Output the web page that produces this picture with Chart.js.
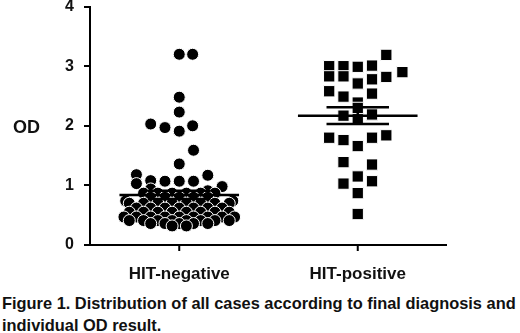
<!DOCTYPE html>
<html>
<head>
<meta charset="utf-8">
<script src="https://cdn.jsdelivr.net/npm/chart.js@4.4.1/dist/chart.umd.min.js"></script>
<style>
    html, body { margin: 0; padding: 0; background: #fff; }
    #wrap { position: relative; width: 520px; height: 333px; overflow: hidden; font-family: "Liberation Sans", Arial, sans-serif; color: #111; }
    #chart_box { position: absolute; left: 0; top: -13px; width: 520px; height: 303px; }
    #y_title { position: absolute; left: 13px; top: 118px; font-size: 18px; font-weight: bold; line-height: 18px; }
    #caption { position: absolute; left: 2px; top: 293px; font-size: 16.4px; font-weight: bold; line-height: 21.5px; white-space: nowrap; }
</style>
</head>
<body>
<div id="wrap">
    <div id="chart_box"><canvas id="od_chart"></canvas></div>
    <div id="y_title">OD</div>
    <div id="caption">Figure 1. Distribution of all cases according to final diagnosis and<br>individual OD result.</div>
</div>
<script>
// Gruplar
const categories = ['HIT-negative', 'HIT-positive'];
const yTicks = [0, 1, 2, 3, 4];

// HIT-negative: yatay kayma (kategori birimi) ve OD değerleri
const negOffsets = [
    0, 0.075, 0, 0,
    -0.16, -0.08, 0, 0.075, 0.08, 0,
    -0.24, 0.16, -0.24, -0.16, -0.08, 0, 0.08, 0.24,
    -0.16, 0.16,
    -0.20, -0.12, -0.04, 0.04, 0.12, 0.20,
    -0.16, -0.08, 0, 0.08, 0.16,
    -0.30, 0.30,
    -0.28, -0.20, -0.12, -0.04, 0.04, 0.12, 0.20, 0.28,
    -0.24, -0.16, -0.08, 0, 0.08, 0.16, 0.24,
    -0.28, -0.20, -0.12, -0.04, 0.04, 0.12, 0.20, 0.28,
    -0.31, -0.24, -0.16, -0.08, 0, 0.08, 0.16, 0.24, 0.31,
    -0.28, -0.20, -0.12, -0.04, 0.04, 0.12, 0.20, 0.28,
    -0.16, -0.08, 0, 0.08, 0.16,
    -0.04, 0.04
];
const negValues = [
    3.2, 3.2, 2.48, 2.23,
    2.03, 1.97, 1.91, 2.0, 1.59, 1.36,
    1.18, 1.17, 1.03, 1.08, 1.07, 1.07, 1.07, 0.98,
    0.94, 0.91,
    0.87, 0.87, 0.87, 0.87, 0.87, 0.87,
    0.80, 0.80, 0.80, 0.80, 0.80,
    0.74, 0.74,
    0.70, 0.70, 0.70, 0.70, 0.70, 0.70, 0.70, 0.70,
    0.62, 0.62, 0.62, 0.62, 0.62, 0.62, 0.62,
    0.55, 0.55, 0.55, 0.55, 0.55, 0.55, 0.55, 0.55,
    0.47, 0.47, 0.47, 0.47, 0.47, 0.47, 0.47, 0.47, 0.47,
    0.41, 0.41, 0.41, 0.41, 0.41, 0.41, 0.41, 0.41,
    0.36, 0.36, 0.36, 0.36, 0.36,
    0.32, 0.32
];

// HIT-positive
const posOffsets = [
    -0.16, -0.16, -0.08, -0.08, 0, 0, 0.08, 0.08, 0.08, 0.16, 0.16, 0.25,
    -0.16, -0.08, 0,
    -0.08, 0, 0.08, 0,
    -0.16, -0.08, 0, 0.08, 0.16,
    -0.08, 0.08,
    0, -0.08, 0.08,
    0, 0
];
const posValues = [
    3.00, 2.83, 3.00, 2.83, 2.99, 2.71, 3.01, 2.78, 2.54, 3.19, 2.82, 2.90,
    2.58, 2.49, 2.39,
    2.17, 2.13, 2.19, 2.30,
    1.80, 1.76, 1.66, 1.80, 1.84,
    1.39, 1.35,
    1.15, 1.03, 1.07,
    0.87, 0.52
];

// Ortalama ve SEM
const groupMeans = [0.84, 2.17];
const semLow = [0.77, 2.03];
const semHigh = [0.91, 2.31];

const meanHalf = 0.335;
const capHalf = 0.175;
const xMin = 0.5;
const xMax = 2.5;

function toPoints(center, offsets, values) {
    return values.map((v, i) => ({ x: center + offsets[i], y: v }));
}

// Ortalama çizgisi + SEM çubukları: her parça ayrı bir çizgi
function segment(points, width) {
    return {
        data: points,
        showLine: true,
        borderColor: '#000',
        borderWidth: width,
        pointRadius: 0,
        clip: false
    };
}
const summarySets = [];
groupMeans.forEach((m, i) => {
    const c = i + 1;
    summarySets.push(segment([{ x: c - meanHalf, y: m }, { x: c + meanHalf, y: m }], 2.5));
    summarySets.push(segment([{ x: c - capHalf, y: semHigh[i] }, { x: c + capHalf, y: semHigh[i] }], 2.5));
    summarySets.push(segment([{ x: c - capHalf, y: semLow[i] }, { x: c + capHalf, y: semLow[i] }], 2.5));
    summarySets.push(segment([{ x: c, y: semLow[i] }, { x: c, y: semHigh[i] }], 2.5));
});
// X ekseni çizgisi (OD = 0)
summarySets.push(segment([{ x: xMin, y: 0 }, { x: xMax, y: 0 }], 2));

const tickFont = { family: '"Liberation Sans", Arial, sans-serif', weight: 'bold' };

// X ekseni tik işaretleri (ölçek üzerinden çizilir)
const xAxisTicks = {
    id: 'xAxisTicks',
    afterDraw(chart) {
        const { ctx, chartArea, scales: { x } } = chart;
        ctx.save();
        ctx.strokeStyle = '#000';
        ctx.lineWidth = 2;
        ctx.beginPath();
        ctx.moveTo(chartArea.left - 1, chartArea.bottom);
        ctx.lineTo(chartArea.right, chartArea.bottom);
        x.ticks.forEach(t => {
            const px = x.getPixelForValue(t.value);
            ctx.moveTo(px, chartArea.bottom);
            ctx.lineTo(px, chartArea.bottom + 6);
        });
        ctx.stroke();
        ctx.restore();
    }
};

new Chart(document.getElementById('od_chart'), {
    type: 'scatter',
    data: {
        datasets: [
            ...summarySets,
            {
                data: toPoints(1, negOffsets, negValues),
                pointStyle: 'circle',
                pointRadius: 6,
                backgroundColor: '#000',
                borderColor: '#fff',
                borderWidth: 1
            },
            {
                data: toPoints(2, posOffsets, posValues),
                pointStyle: 'rect',
                pointRadius: 8,
                backgroundColor: '#000',
                borderColor: '#fff',
                borderWidth: 1
            }
        ]
    },
    plugins: [xAxisTicks],
    options: {
        responsive: true,
        maintainAspectRatio: false,
        animation: false,
        layout: {
            autoPadding: false,
            padding: { left: 0, right: 73, top: 7, bottom: 0 }
        },
        plugins: {
            legend: { display: false },
            tooltip: { enabled: false }
        },
        scales: {
            x: {
                type: 'linear',
                min: xMin,
                max: xMax,
                afterBuildTicks: (axis) => { axis.ticks = categories.map((c, i) => ({ value: i + 1 })); },
                afterFit: (axis) => { axis.height = 45; },
                ticks: {
                    color: '#111',
                    font: { ...tickFont, size: 17 },
                    padding: 11,
                    maxRotation: 0,
                    callback: (v) => categories[v - 1]
                },
                grid: { display: false },
                border: { display: false }
            },
            y: {
                min: 0,
                max: 4,
                afterBuildTicks: (axis) => { axis.ticks = yTicks.map(v => ({ value: v })); },
                afterFit: (axis) => { axis.width = 90; },
                ticks: {
                    color: '#111',
                    font: { ...tickFont, size: 16 },
                    padding: 10
                },
                grid: { drawOnChartArea: false, drawTicks: true, tickLength: 6, color: '#000', lineWidth: 2, z: 1 },
                border: { display: true, color: '#000', width: 2, z: 1 }
            }
        }
    }
});
</script>
</body>
</html>
